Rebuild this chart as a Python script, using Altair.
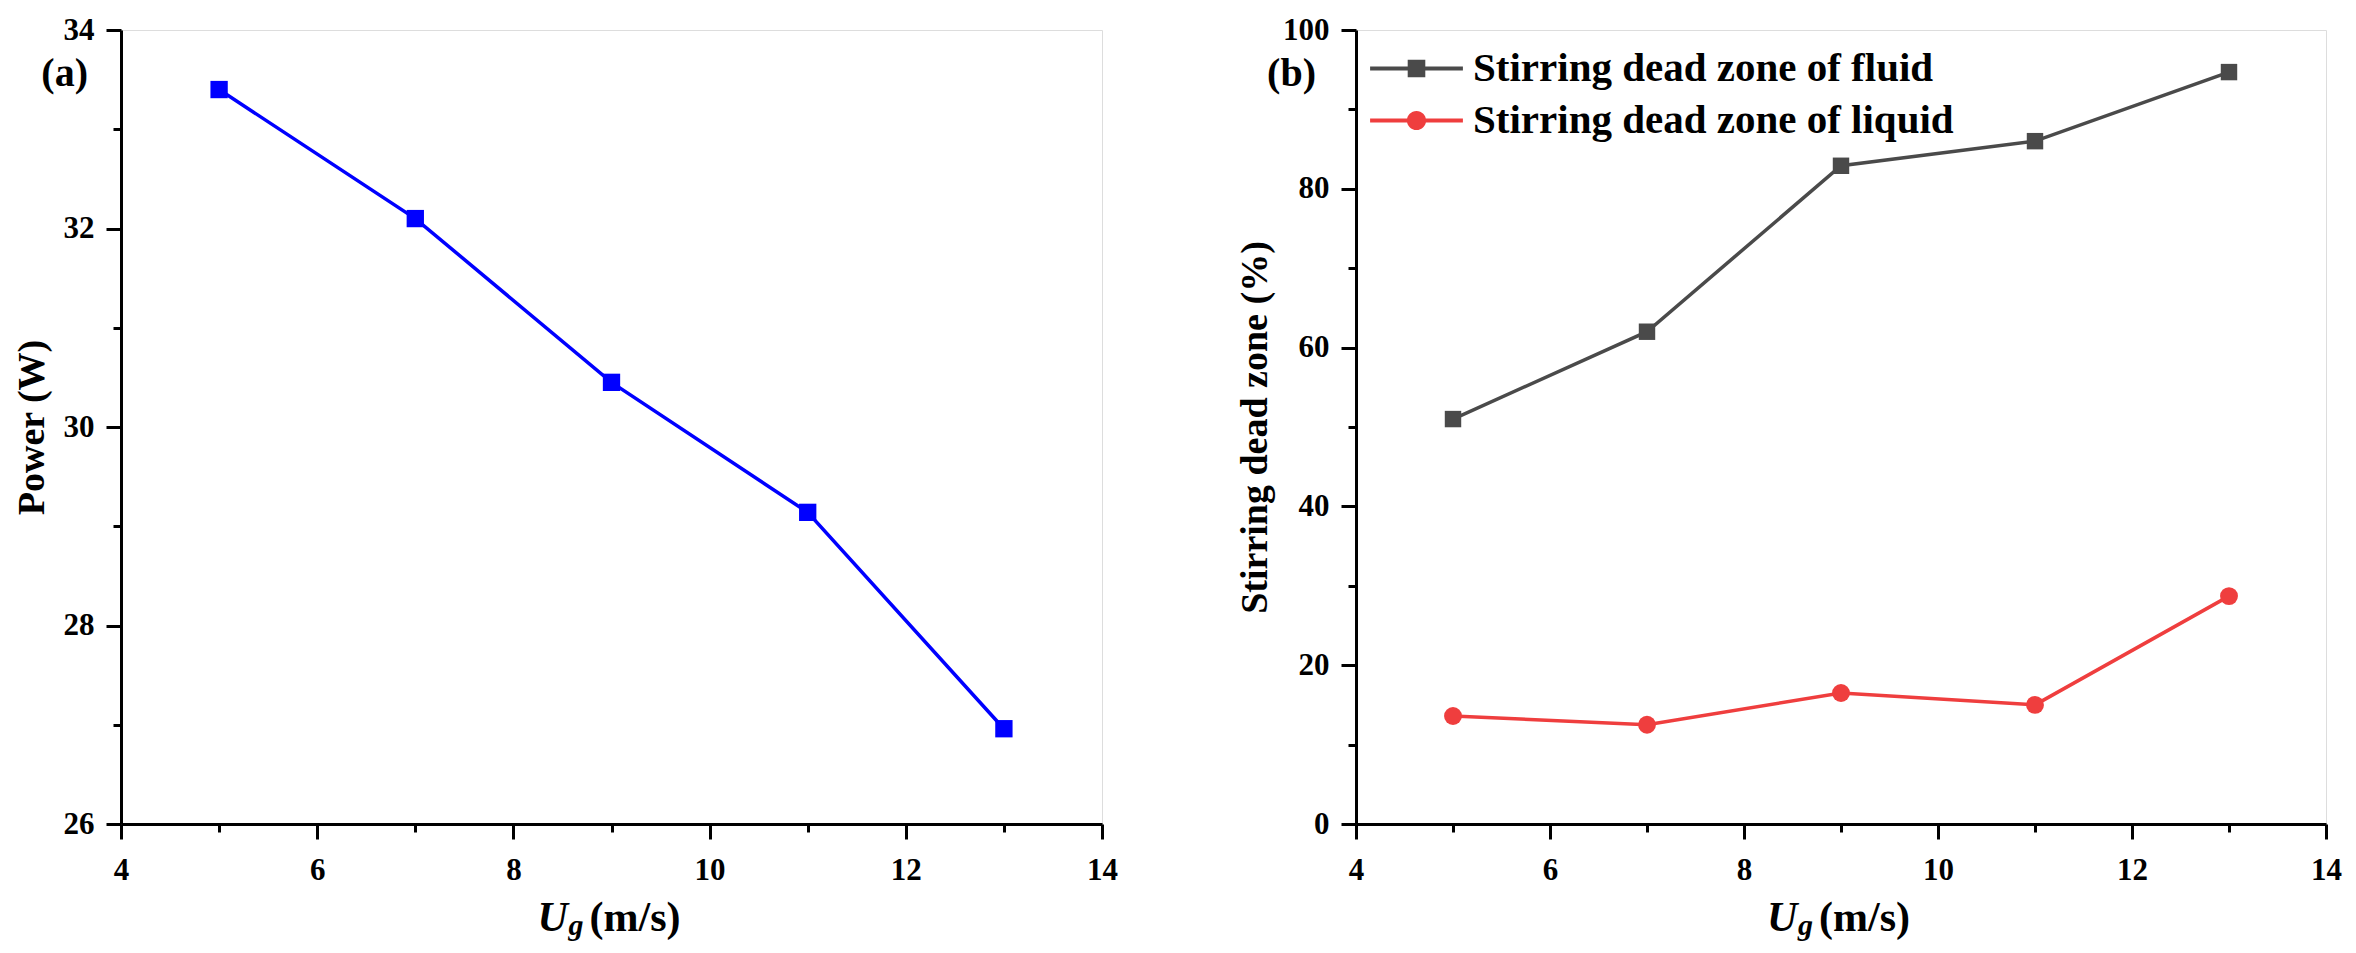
import altair as alt
import pandas as pd

# ---- data ----
ug = [5, 7, 9, 11, 13]
power = [33.4, 32.1, 30.45, 29.14, 26.96]
fluid = [51.0, 62.0, 82.9, 86.0, 94.7]
liquid = [13.6, 12.5, 16.5, 15.0, 28.7]
series_names = ["Stirring dead zone of fluid", "Stirring dead zone of liquid"]
panel_labels = ["(a)", "(b)"]
x_ticks = list(range(4, 15))
power_ticks = list(range(26, 35))
zone_ticks = list(range(0, 101, 10))
x_title_parts = ["U", "g", "(m/s)"]

FONT = "Liberation Serif"
BLUE = "#0000FF"
GRAY = "#4A4A4A"
RED = "#EF3E3E"
W_A, W_B, H = 981, 970, 794

df_a = pd.DataFrame({"ug": ug, "val": power})
df_f = pd.DataFrame({"ug": ug, "val": fluid})
df_l = pd.DataFrame({"ug": ug, "val": liquid})
df_leg = pd.DataFrame({"ug": ug + ug, "val": fluid + liquid,
                       "series": [series_names[0]] * 5 + [series_names[1]] * 5})


def axis_common(values, major_test, title, title_pad, label_pad):
    return alt.Axis(
        values=values,
        title=title,
        grid=False,
        labelExpr=f"{major_test} ? datum.label : ''",
        tickSize={"condition": {"test": major_test, "value": 15}, "value": 8},
        tickWidth=3,
        tickColor="black",
        domainColor="black",
        domainWidth=3,
        labelFont=FONT,
        labelFontSize=31,
        labelFontWeight="bold",
        labelColor="black",
        labelPadding=label_pad,
        labelFlush=False,
        titleFont=FONT,
        titleFontSize=38,
        titleFontWeight="bold",
        titleColor="black",
        titlePadding=title_pad,
        format="d",
    )


def x_enc():
    return alt.X("ug:Q", scale=alt.Scale(domain=[4, 14], nice=False, zero=False),
                 axis=axis_common(x_ticks, "datum.value % 2 === 0", None, 0, 16))


def text_layer(txt, x, y, size, style="normal", align="left"):
    return alt.Chart(pd.DataFrame({"t": [txt]})).mark_text(
        font=FONT, fontSize=size, fontWeight="bold", fontStyle=style,
        align=align, baseline="alphabetic", color="black"
    ).encode(x=alt.value(x), y=alt.value(y), text="t:N")


def x_title(width):
    c = width / 2
    return [
        text_layer(x_title_parts[0], c - 74, H + 107, 42, "italic"),
        text_layer(x_title_parts[1], c - 43, H + 111, 30, "italic"),
        text_layer(x_title_parts[2], c - 22, H + 107, 42),
    ]


# ---- panel (a) ----
ya = alt.Y("val:Q", scale=alt.Scale(domain=[26, 34], nice=False, zero=False),
           axis=axis_common(power_ticks, "datum.value % 2 === 0", "Power (W)", 12, 12))
line_a = alt.Chart(df_a).mark_line(color=BLUE, strokeWidth=3.5).encode(x=x_enc(), y=ya)
pts_a = alt.Chart(df_a).mark_point(shape="square", filled=True, size=300, color=BLUE,
                                   opacity=1).encode(x=x_enc(), y=ya)
panel_a = alt.layer(line_a, pts_a,
                    text_layer(panel_labels[0], -33, 56, 40, align="right"),
                    *x_title(W_A)).properties(width=W_A, height=H)

# ---- panel (b) ----
yb = alt.Y("val:Q", scale=alt.Scale(domain=[0, 100], nice=False, zero=False),
           axis=axis_common(zone_ticks, "datum.value % 20 === 0",
                            "Stirring dead zone (%)", 8, 12))
line_f = alt.Chart(df_f).mark_line(color=GRAY, strokeWidth=3.5).encode(x=x_enc(), y=yb)
pts_f = alt.Chart(df_f).mark_point(shape="square", filled=True, size=270, color=GRAY,
                                   opacity=1).encode(x=x_enc(), y=yb)
line_l = alt.Chart(df_l).mark_line(color=RED, strokeWidth=3.5).encode(x=x_enc(), y=yb)
pts_l = alt.Chart(df_l).mark_point(shape="circle", filled=True, size=320, color=RED,
                                   opacity=1).encode(x=x_enc(), y=yb)

# legend symbols: line segment + marker as custom paths
sym_fluid = "M-5.8,-0.24H5.8V0.24H-5.8Z M-1.1,-1.1H1.1V1.1H-1.1Z"
sym_liquid = ("M-5.8,-0.24H5.8V0.24H-5.8Z "
              "M1.2,0A1.2,1.2,0,1,1,-1.2,0A1.2,1.2,0,1,1,1.2,0Z")
leg = alt.Legend(
    title=None, orient="none", legendX=2, legendY=18, padding=0,
    labelFont=FONT, labelFontSize=41, labelFontWeight="bold", labelColor="black",
    labelLimit=0, symbolSize=256, symbolOffset=38, labelOffset=36,
    symbolStrokeWidth=0, rowPadding=10,
)
legend_layer = alt.Chart(df_leg).transform_filter("datum.ug < 0").mark_point(
    filled=True, size=256, opacity=1
).encode(
    x=x_enc(), y=yb,
    color=alt.Color("series:N", scale=alt.Scale(domain=series_names, range=[GRAY, RED]),
                    legend=leg),
    shape=alt.Shape("series:N", scale=alt.Scale(domain=series_names,
                                                range=[sym_fluid, sym_liquid]),
                    legend=leg),
)

panel_b = alt.layer(line_f, pts_f, line_l, pts_l, legend_layer,
                    text_layer(panel_labels[1], -40, 56, 40, align="right"),
                    *x_title(W_B)).properties(width=W_B, height=H)

chart = alt.hconcat(panel_a, panel_b, spacing=118).resolve_legend(
    color="independent", shape="independent"
).properties(
    padding={"left": 4, "top": 5, "right": 5, "bottom": 5}
).configure_view(stroke="black", strokeWidth=3).configure(background="white")

chart.save("out.html", embed_options={"renderer": "svg", "actions": False})
